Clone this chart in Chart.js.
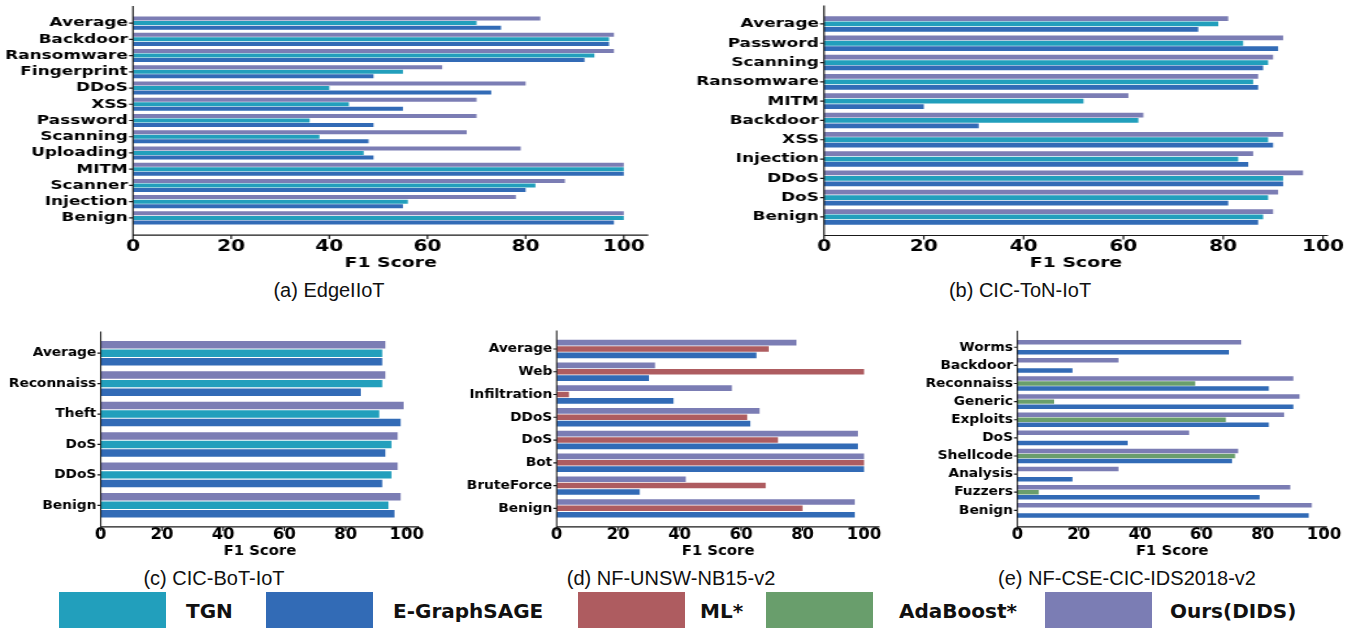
<!DOCTYPE html>
<html>
<head>
<meta charset="utf-8">
<script src="https://cdn.jsdelivr.net/npm/chart.js@4.4.1/dist/chart.umd.min.js"></script>
<style>
  body { margin: 0; background: #fff; width: 1364px; height: 628px; overflow: hidden; position: relative; }
  .panel { position: absolute; transform-origin: 0 0; }
  .cap { position: absolute; font-family: 'Liberation Sans', Arial, sans-serif; font-size: 20px; color: #111; white-space: nowrap; transform: translate(-50%, -50%); }
  .box { position: absolute; top: 592px; width: 107px; height: 36px; }
  .lab { position: absolute; top: 611px; transform: translateY(-50%); font-family: 'DejaVu Sans'; font-weight: bold; font-size: 20px; color: #111; white-space: nowrap; }
</style>
</head>
<body>
<div class="panel" id="pa"><canvas id="ca"></canvas></div>
<div class="panel" id="pb"><canvas id="cb"></canvas></div>
<div class="panel" id="pc"><canvas id="cc"></canvas></div>
<div class="panel" id="pd"><canvas id="cd"></canvas></div>
<div class="panel" id="pe"><canvas id="ce"></canvas></div>

<div class="cap" style="left:329px; top:290px">(a) EdgeIIoT</div>
<div class="cap" style="left:1020px; top:290px">(b) CIC-ToN-IoT</div>
<div class="cap" style="left:214px; top:578px">(c) CIC-BoT-IoT</div>
<div class="cap" style="left:671px; top:578px">(d) NF-UNSW-NB15-v2</div>
<div class="cap" style="left:1127px; top:578px">(e) NF-CSE-CIC-IDS2018-v2</div>

<div id="legend"></div>

<script>
// colours
const cTGN = '#229FBC';
const cGS = '#326BB6';
const cML = '#AE5C60';
const cAda = '#699E6C';
const cOurs = '#7B7DB4';

// (a) EdgeIIoT
const edgeCats = ['Average', 'Backdoor', 'Ransomware', 'Fingerprint', 'DDoS', 'XSS', 'Password', 'Scanning', 'Uploading', 'MITM', 'Scanner', 'Injection', 'Benign'];
const edgeOurs = [83, 98, 98, 63, 80, 70, 70, 68, 79, 100, 88, 78, 100];
const edgeTGN  = [70, 97, 94, 55, 40, 44, 36, 38, 47, 100, 82, 56, 100];
const edgeGS   = [75, 97, 92, 49, 73, 55, 49, 48, 49, 100, 80, 55, 98];

// (b) CIC-ToN-IoT
const tonCats = ['Average', 'Password', 'Scanning', 'Ransomware', 'MITM', 'Backdoor', 'XSS', 'Injection', 'DDoS', 'DoS', 'Benign'];
const tonOurs = [81, 92, 90, 87, 61, 64, 92, 86, 96, 91, 90];
const tonTGN  = [79, 84, 89, 86, 52, 63, 89, 83, 92, 89, 88];
const tonGS   = [75, 91, 88, 87, 20, 31, 90, 85, 92, 81, 87];

// (c) CIC-BoT-IoT
const botCats = ['Average', 'Reconnaiss', 'Theft', 'DoS', 'DDoS', 'Benign'];
const botOurs = [93, 93, 99, 97, 97, 98];
const botTGN  = [92, 92, 91, 95, 95, 94];
const botGS   = [92, 85, 98, 93, 92, 96];

// (d) NF-UNSW-NB15-v2
const unswCats = ['Average', 'Web', 'Infiltration', 'DDoS', 'DoS', 'Bot', 'BruteForce', 'Benign'];
const unswOurs = [78, 32, 57, 66, 98, 100, 42, 97];
const unswML   = [69, 100, 4, 62, 72, 100, 68, 80];
const unswGS   = [65, 30, 38, 63, 98, 100, 27, 97];

// (e) NF-CSE-CIC-IDS2018-v2
const cseCats = ['Worms', 'Backdoor', 'Reconnaiss', 'Generic', 'Exploits', 'DoS', 'Shellcode', 'Analysis', 'Fuzzers', 'Benign'];
const cseOurs = [73, 33, 90, 92, 87, 56, 72, 33, 89, 96];
const cseAda  = [null, null, 58, 12, 68, null, 71, null, 7, null];
const cseGS   = [69, 18, 82, 90, 82, 36, 70, 18, 79, 95];

const xTicks = [0, 20, 40, 60, 80, 100];

const legendItems = [
  ['TGN', cTGN, 59, 186],
  ['E-GraphSAGE', cGS, 266, 393],
  ['ML*', cML, 578, 700],
  ['AdaBoost*', cAda, 766, 899],
  ['Ours(DIDS)', cOurs, 1045, 1170]
];

// matplotlib-like spines that stick out a bit past the bars
const spines = {
  id: 'spines',
  afterDraw(chart) {
    const {ctx, chartArea: a, scales: {x, y}} = chart;
    const n = y.ticks.length;
    const pitch = (a.bottom - a.top) / n;
    const m = pitch * (0.05 * (n - 0.16) - 0.08);
    ctx.save();
    ctx.strokeStyle = '#1a1a1a';
    ctx.lineWidth = 1.2;
    ctx.beginPath();
    ctx.moveTo(a.left, a.top - m);
    ctx.lineTo(a.left, a.bottom + m);
    ctx.lineTo(a.right, a.bottom + m);
    x.ticks.forEach(t => {
      const px = x.getPixelForValue(t.value);
      ctx.moveTo(px, a.bottom + m);
      ctx.lineTo(px, a.bottom + m + 4);
    });
    for (let i = 0; i < n; i++) {
      const py = y.getPixelForTick(i);
      ctx.moveTo(a.left, py);
      ctx.lineTo(a.left - 3, py);
    }
    ctx.stroke();
    ctx.restore();
  }
};

function makePanel(id, g, labels, sets) {
  const wrap = document.getElementById('p' + id);
  const canvas = document.getElementById('c' + id);
  wrap.style.left = g.left + 'px';
  wrap.style.top = g.top + 'px';
  wrap.style.transform = 'scaleX(' + g.s + ')';
  canvas.width = g.w;
  canvas.height = g.h;

  const yWidth = (g.plotL - g.left) / g.s;
  const padRight = g.w - (g.plotR - g.left) / g.s;
  const xHeight = g.top + g.h - g.plotB;
  const tickPad = g.tickY - g.plotB - 0.6 * g.xFont;
  const titlePad = g.top + g.h - g.titleY - 0.6 * g.titleFont;

  new Chart(canvas, {
    type: 'bar',
    data: {
      labels: labels,
      datasets: sets.map(([data, color]) => ({
        data: data,
        backgroundColor: color,
        borderWidth: 0,
        barPercentage: 0.88,
        categoryPercentage: 0.84
      }))
    },
    options: {
      indexAxis: 'y',
      responsive: false,
      animation: false,
      layout: { padding: { top: g.plotT - g.top, right: padRight, left: 0, bottom: 0 } },
      plugins: { legend: { display: false }, tooltip: { enabled: false } },
      scales: {
        x: {
          min: 0,
          max: g.xmax,
          afterBuildTicks: s => { s.ticks = xTicks.map(v => ({ value: v })); },
          afterFit: s => { s.height = xHeight; },
          ticks: {
            padding: tickPad,
            color: '#000',
            font: { family: 'DejaVu Sans', weight: 'bold', size: g.xFont }
          },
          grid: { display: false, drawTicks: false },
          border: { display: false },
          title: {
            display: true,
            text: 'F1 Score',
            color: '#000',
            font: { family: 'DejaVu Sans', weight: 'bold', size: g.titleFont },
            padding: { top: 0, bottom: titlePad }
          }
        },
        y: {
          afterFit: s => { s.width = yWidth; },
          ticks: {
            autoSkip: false,
            padding: 4,
            color: '#000',
            font: { family: 'DejaVu Sans', weight: 'bold', size: g.yFont }
          },
          grid: { display: false, drawTicks: false },
          border: { display: false }
        }
      }
    },
    plugins: [spines]
  });
}

const topRow = { s: 1.3, h: 275, tickY: 247, titleY: 263, yFont: 13, xFont: 15.5, titleFont: 14.5 };
const botRow = { s: 1.1, h: 237, tickY: 535, titleY: 551.5, yFont: 12.5, xFont: 15, titleFont: 13.5 };

makePanel('a', { ...topRow, left: 0, top: 0, w: 508, plotL: 133, plotR: 652, plotT: 15, plotB: 226, xmax: 105 },
  edgeCats, [[edgeOurs, cOurs], [edgeTGN, cTGN], [edgeGS, cGS]]);
makePanel('b', { ...topRow, left: 680, top: 0, w: 526, plotL: 824, plotR: 1328, plotT: 14.3, plotB: 226.6, xmax: 101 },
  tonCats, [[tonOurs, cOurs], [tonTGN, cTGN], [tonGS, cGS]]);
makePanel('c', { ...botRow, left: 0, top: 325, w: 400, plotL: 100.7, plotR: 419, plotT: 338, plotB: 520.5, xmax: 104 },
  botCats, [[botOurs, cOurs], [botTGN, cTGN], [botGS, cGS]]);
makePanel('d', { ...botRow, left: 440, top: 325, w: 418, plotL: 556.7, plotR: 879.4, plotT: 337.6, plotB: 519.7, xmax: 105 },
  unswCats, [[unswOurs, cOurs], [unswML, cML], [unswGS, cGS]]);
makePanel('e', { ...botRow, left: 900, top: 325, w: 421, plotL: 1017.3, plotR: 1327.1, plotT: 338.2, plotB: 519.4, xmax: 101 },
  cseCats, [[cseOurs, cOurs], [cseAda, cAda], [cseGS, cGS]]);

// legend along the bottom
const legend = document.getElementById('legend');
legendItems.forEach(([name, color, boxX, textX]) => {
  const b = document.createElement('div');
  b.className = 'box';
  b.style.left = boxX + 'px';
  b.style.background = color;
  legend.appendChild(b);
  const t = document.createElement('div');
  t.className = 'lab';
  t.style.left = textX + 'px';
  t.textContent = name;
  legend.appendChild(t);
});
</script>
</body>
</html>
